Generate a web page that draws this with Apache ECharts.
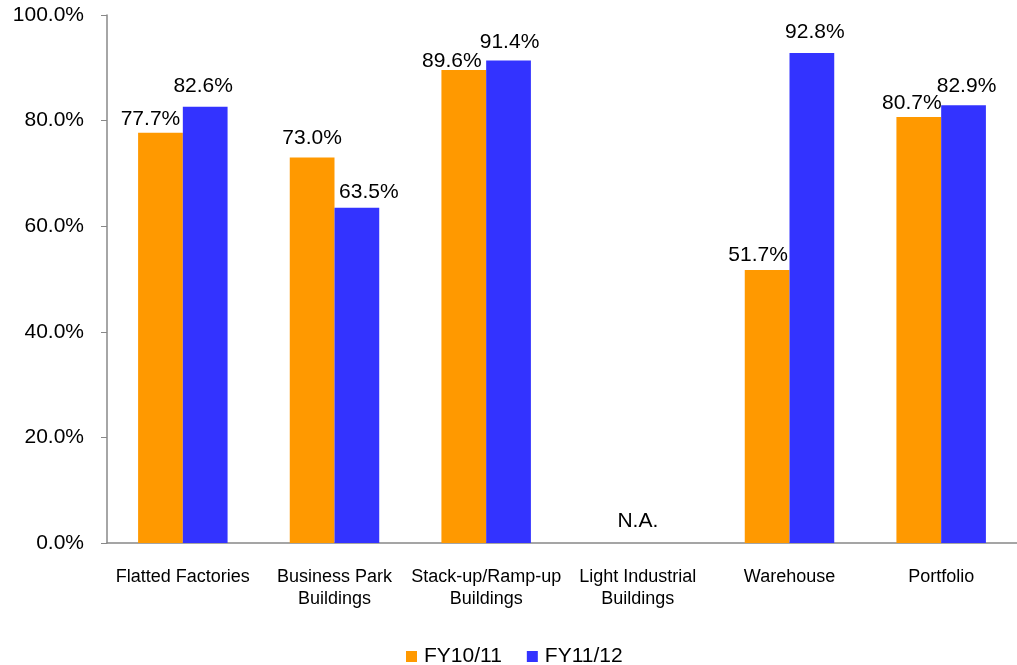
<!DOCTYPE html>
<html>
<head>
<meta charset="utf-8">
<script src="https://cdn.jsdelivr.net/npm/echarts@6/dist/echarts.min.js"></script>
<style>
  html, body { margin: 0; padding: 0; background: #fff; }
  #chart { width: 1017px; height: 665px; }
</style>
</head>
<body>
<div id="chart"></div>
<script>
// categories and values (null = not available)
var categories = ['Flatted Factories', 'Business Park\nBuildings', 'Stack-up/Ramp-up\nBuildings',
    'Light Industrial\nBuildings', 'Warehouse', 'Portfolio'];
var fy1011 = [77.7, 73.0, 89.6, null, 51.7, 80.7];
var fy1112 = [82.6, 63.5, 91.4, null, 92.8, 82.9];
var yTicks = [0, 20, 40, 60, 80, 100];

// label nudges, the source had hand placed labels
var nudge1011 = [[-10, 2], [0, -4], [-12, 7], [0, 0], [-9, 1], [-7, 2]];
var nudge1112 = [[-2, -5], [12, 0], [1, -3], [0, 0], [3, -5], [3, -4]];

function withLabels(values, nudge) {
    var res = [];
    for (var i = 0; i < values.length; i++) {
        res.push({ value: values[i], label: { offset: nudge[i] } });
    }
    return res;
}

var chart = echarts.init(document.getElementById('chart'));
var font = 'Liberation Sans, Arial, sans-serif';

var option = {
    backgroundColor: '#fff',
    animation: false,
    textStyle: { fontFamily: font },
    grid: { left: 107, right: -5, top: 15, bottom: 122 },
    legend: {
        data: ['FY10/11', 'FY11/12'],
        top: 641,
        left: 401,
        itemWidth: 11,
        itemHeight: 11,
        itemGap: 25,
        icon: 'rect',
        textStyle: { fontSize: 21, color: '#000', fontFamily: font, padding: [0, 0, 0, 2] }
    },
    xAxis: {
        type: 'category',
        data: categories,
        axisLine: { lineStyle: { color: '#888', width: 1.5 } },
        axisTick: { show: false },
        axisLabel: {
            interval: 0,
            color: '#000',
            fontSize: 18,
            lineHeight: 22,
            margin: 23,
            fontFamily: font
        }
    },
    yAxis: {
        type: 'value',
        min: yTicks[0],
        max: yTicks[yTicks.length - 1],
        interval: 20,
        axisLine: { show: true, lineStyle: { color: '#888', width: 1.5 } },
        axisTick: { show: true, length: 6, lineStyle: { color: '#888' } },
        splitLine: { show: false },
        axisLabel: {
            color: '#000',
            fontSize: 21,
            margin: 23,
            padding: [5, 0, 0, 0],
            fontFamily: font,
            formatter: function (v) { return v.toFixed(1) + '%'; }
        }
    },
    series: [
        {
            name: 'FY10/11',
            type: 'bar',
            data: withLabels(fy1011, nudge1011),
            itemStyle: { color: '#FF9900' },
            barGap: '0%',
            barCategoryGap: '41%',
            label: {
                show: true,
                position: 'top',
                color: '#000',
                fontSize: 21,
                fontFamily: font,
                formatter: function (p) { return p.value.toFixed(1) + '%'; }
            }
        },
        {
            name: 'FY11/12',
            type: 'bar',
            data: withLabels(fy1112, nudge1112),
            itemStyle: { color: '#3333FF' },
            barGap: '0%',
            barCategoryGap: '41%',
            label: {
                show: true,
                position: 'top',
                color: '#000',
                fontSize: 21,
                fontFamily: font,
                formatter: function (p) { return p.value.toFixed(1) + '%'; }
            }
        },
        {
            // "N.A." note on the empty category
            name: 'note',
            type: 'scatter',
            data: [[3, 0]],
            symbolSize: 0,
            itemStyle: { color: '#000', opacity: 1 },
            silent: true,
            label: {
                show: true,
                position: 'top',
                distance: 11,
                color: '#000',
                fontSize: 21,
                fontFamily: font,
                formatter: 'N.A.'
            }
        }
    ]
};

chart.setOption(option);
</script>
</body>
</html>
